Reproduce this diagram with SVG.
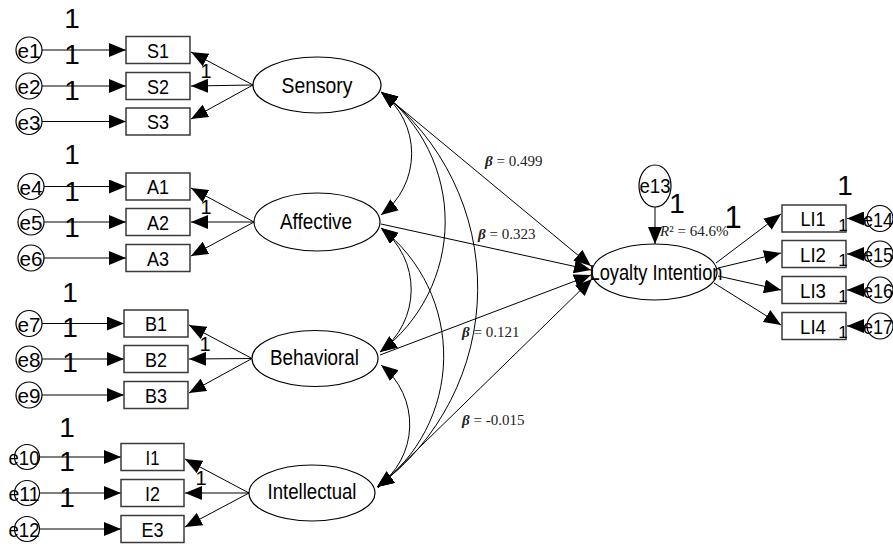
<svg xmlns="http://www.w3.org/2000/svg" width="893" height="546" viewBox="0 0 893 546">
<defs>
<style>
.n{fill:#fff;stroke:#000;stroke-width:1.2}
.b{fill:#fff;stroke:#3a3a3a;stroke-width:1.5}
.c{fill:none;stroke:#000;stroke-width:1}
.a{marker-end:url(#ah)}
.d{marker-start:url(#ah);marker-end:url(#ah)}
.t{font-family:"Liberation Sans",Arial,sans-serif;font-size:21px;text-anchor:middle;fill:#000}
.lt{font-size:22px}
.o{font-family:"Liberation Sans",Arial,sans-serif;font-size:28px;text-anchor:middle;fill:#000}
.os{font-size:20px}
.ox{font-size:17px}
.s{font-family:"Liberation Serif","Times New Roman",serif;font-size:15px;fill:#222}
.g{font-weight:bold;font-style:italic}
.i{font-style:italic}
</style>
<marker id="ah" viewBox="0 0 17 14" markerWidth="17" markerHeight="14" refX="17" refY="7" orient="auto-start-reverse" markerUnits="userSpaceOnUse"><path d="M0,0L17,7L0,14Z" fill="#000"/></marker>
</defs>
<rect width="893" height="546" fill="#fff"/>

<g id="connectors">
<!-- error to indicator -->
<line class="c a" x1="42" y1="50" x2="126" y2="50"/>
<line class="c a" x1="42" y1="86" x2="126" y2="86"/>
<line class="c a" x1="42" y1="121.5" x2="126" y2="121.5"/>
<line class="c a" x1="44" y1="186.5" x2="126" y2="186.5"/>
<line class="c a" x1="44" y1="222" x2="126" y2="222"/>
<line class="c a" x1="44" y1="258" x2="126" y2="258"/>
<line class="c a" x1="42" y1="323.5" x2="124" y2="323.5"/>
<line class="c a" x1="42" y1="359" x2="124" y2="359"/>
<line class="c a" x1="42" y1="395" x2="124" y2="395"/>
<line class="c a" x1="40" y1="457" x2="121" y2="457"/>
<line class="c a" x1="40" y1="493" x2="121" y2="493"/>
<line class="c a" x1="40" y1="529" x2="121" y2="529"/>
<!-- latent to indicators -->
<line class="c a" x1="253" y1="85" x2="191" y2="52"/>
<line class="c a" x1="253" y1="85" x2="191" y2="86"/>
<line class="c a" x1="253" y1="85" x2="191" y2="119"/>
<line class="c a" x1="254" y1="222" x2="191" y2="188"/>
<line class="c a" x1="254" y1="222" x2="191" y2="222"/>
<line class="c a" x1="254" y1="222" x2="191" y2="256"/>
<line class="c a" x1="252" y1="358.5" x2="189" y2="325"/>
<line class="c a" x1="252" y1="358.5" x2="189" y2="359"/>
<line class="c a" x1="252" y1="358.5" x2="189" y2="393"/>
<line class="c a" x1="249" y1="493" x2="185" y2="459"/>
<line class="c a" x1="249" y1="493" x2="185" y2="493"/>
<line class="c a" x1="249" y1="493" x2="185" y2="527"/>
<!-- covariances -->
<path class="c d" d="M381,92 A77,77 0 0 1 381,215"/>
<path class="c d" d="M381,92 A163,163 0 0 1 380,352"/>
<path class="c d" d="M381,92 A247,247 0 0 1 377,487"/>
<path class="c d" d="M381,228 A78,78 0 0 1 380,352"/>
<path class="c d" d="M381,228 A162,162 0 0 1 377,487"/>
<path class="c d" d="M381,365 A76,76 0 0 1 377,487"/>
<!-- structural paths -->
<line class="c a" x1="381" y1="92" x2="591" y2="266"/>
<line class="c a" x1="381" y1="224" x2="591" y2="270"/>
<line class="c a" x1="380" y1="355" x2="591" y2="275"/>
<line class="c a" x1="378" y1="488" x2="592" y2="279"/>
<!-- loyalty to indicators -->
<line class="c a" x1="716" y1="263" x2="781" y2="214"/>
<line class="c a" x1="718" y1="268" x2="781" y2="253"/>
<line class="c a" x1="718" y1="276" x2="781" y2="290"/>
<line class="c a" x1="714" y1="283" x2="781" y2="325"/>
<!-- errors right -->
<line class="c a" x1="867" y1="218.5" x2="847" y2="218.5"/>
<line class="c a" x1="867" y1="254" x2="847" y2="254"/>
<line class="c a" x1="867" y1="290" x2="847" y2="290"/>
<line class="c a" x1="867" y1="326" x2="847" y2="326"/>
<line class="c a" x1="655" y1="207" x2="655" y2="244"/>
</g>

<g id="Sensory"><ellipse class="n" cx="317" cy="85" rx="64" ry="28"/><text class="t lt" x="317" y="93" textLength="71" lengthAdjust="spacingAndGlyphs">Sensory</text></g>
<g id="Affective"><ellipse class="n" cx="317" cy="222" rx="63" ry="29"/><text class="t lt" x="316" y="229" textLength="72" lengthAdjust="spacingAndGlyphs">Affective</text></g>
<g id="Behavioral"><ellipse class="n" cx="315" cy="358.5" rx="63" ry="28"/><text class="t lt" x="314.5" y="365" textLength="89" lengthAdjust="spacingAndGlyphs">Behavioral</text></g>
<g id="Intellectual"><ellipse class="n" cx="312" cy="493" rx="63" ry="28"/><text class="t lt" x="312" y="499" textLength="89" lengthAdjust="spacingAndGlyphs">Intellectual</text></g>
<g id="LoyaltyIntention"><ellipse class="n" cx="654.5" cy="272" rx="62.5" ry="28"/><text class="t lt" x="656" y="280" textLength="133" lengthAdjust="spacingAndGlyphs">Loyalty Intention</text></g>

<g id="S1"><rect class="b" x="126" y="36.5" width="64" height="27"/><text class="t" x="158" y="57.5" textLength="22" lengthAdjust="spacingAndGlyphs">S1</text></g>
<g id="S2"><rect class="b" x="126" y="72.5" width="64" height="27"/><text class="t" x="158" y="93.5" textLength="22" lengthAdjust="spacingAndGlyphs">S2</text></g>
<g id="S3"><rect class="b" x="126" y="108" width="64" height="27"/><text class="t" x="158" y="129" textLength="22" lengthAdjust="spacingAndGlyphs">S3</text></g>
<g id="A1"><rect class="b" x="126" y="173" width="64" height="27"/><text class="t" x="158" y="194" textLength="22" lengthAdjust="spacingAndGlyphs">A1</text></g>
<g id="A2"><rect class="b" x="126" y="208.5" width="64" height="27"/><text class="t" x="158" y="229.5" textLength="22" lengthAdjust="spacingAndGlyphs">A2</text></g>
<g id="A3"><rect class="b" x="126" y="244.5" width="64" height="27"/><text class="t" x="158" y="265.5" textLength="22" lengthAdjust="spacingAndGlyphs">A3</text></g>
<g id="B1"><rect class="b" x="124" y="310" width="64" height="27"/><text class="t" x="156" y="331" textLength="22" lengthAdjust="spacingAndGlyphs">B1</text></g>
<g id="B2"><rect class="b" x="124" y="345.5" width="64" height="27"/><text class="t" x="156" y="366.5" textLength="22" lengthAdjust="spacingAndGlyphs">B2</text></g>
<g id="B3"><rect class="b" x="124" y="381.5" width="64" height="27"/><text class="t" x="156" y="402.5" textLength="22" lengthAdjust="spacingAndGlyphs">B3</text></g>
<g id="I1"><rect class="b" x="121" y="443.5" width="63" height="27"/><text class="t" x="152.5" y="464.5" textLength="14" lengthAdjust="spacingAndGlyphs">I1</text></g>
<g id="I2"><rect class="b" x="121" y="479.5" width="63" height="27"/><text class="t" x="152.5" y="500.5" textLength="15" lengthAdjust="spacingAndGlyphs">I2</text></g>
<g id="E3"><rect class="b" x="121" y="515.5" width="63" height="27"/><text class="t" x="152.5" y="536.5" textLength="22" lengthAdjust="spacingAndGlyphs">E3</text></g>
<g id="LI1"><rect class="b" x="782" y="205" width="64" height="27"/><text class="t" x="813" y="226" textLength="25" lengthAdjust="spacingAndGlyphs">LI1</text></g>
<g id="LI2"><rect class="b" x="782" y="240.5" width="64" height="27"/><text class="t" x="813" y="261.5" textLength="26" lengthAdjust="spacingAndGlyphs">LI2</text></g>
<g id="LI3"><rect class="b" x="782" y="276.5" width="64" height="27"/><text class="t" x="813" y="297.5" textLength="26" lengthAdjust="spacingAndGlyphs">LI3</text></g>
<g id="LI4"><rect class="b" x="782" y="312.5" width="64" height="27"/><text class="t" x="813" y="333.5" textLength="26" lengthAdjust="spacingAndGlyphs">LI4</text></g>

<g id="e1"><circle class="n" cx="29" cy="50" r="13"/><text class="t" x="29" y="58" textLength="23" lengthAdjust="spacingAndGlyphs">e1</text></g>
<g id="e2"><circle class="n" cx="29" cy="86" r="13"/><text class="t" x="29" y="94" textLength="23" lengthAdjust="spacingAndGlyphs">e2</text></g>
<g id="e3"><circle class="n" cx="29" cy="121.5" r="13"/><text class="t" x="29" y="129.5" textLength="23" lengthAdjust="spacingAndGlyphs">e3</text></g>
<g id="e4"><circle class="n" cx="31" cy="186.5" r="13"/><text class="t" x="31" y="194.5" textLength="23" lengthAdjust="spacingAndGlyphs">e4</text></g>
<g id="e5"><circle class="n" cx="31" cy="222" r="13"/><text class="t" x="31" y="230" textLength="23" lengthAdjust="spacingAndGlyphs">e5</text></g>
<g id="e6"><circle class="n" cx="31" cy="258" r="13"/><text class="t" x="31" y="266" textLength="23" lengthAdjust="spacingAndGlyphs">e6</text></g>
<g id="e7"><circle class="n" cx="29" cy="323.5" r="13"/><text class="t" x="29" y="331.5" textLength="23" lengthAdjust="spacingAndGlyphs">e7</text></g>
<g id="e8"><circle class="n" cx="29" cy="359" r="13"/><text class="t" x="29" y="367" textLength="23" lengthAdjust="spacingAndGlyphs">e8</text></g>
<g id="e9"><circle class="n" cx="29" cy="395" r="13"/><text class="t" x="29" y="403" textLength="23" lengthAdjust="spacingAndGlyphs">e9</text></g>
<g id="e10"><circle class="n" cx="27" cy="457" r="12.5"/><text class="t" x="24" y="465" textLength="31" lengthAdjust="spacingAndGlyphs">e10</text></g>
<g id="e11"><circle class="n" cx="27" cy="493" r="12.5"/><text class="t" x="24" y="501" textLength="31" lengthAdjust="spacingAndGlyphs">e11</text></g>
<g id="e12"><circle class="n" cx="27" cy="529" r="12.5"/><text class="t" x="24" y="537" textLength="31" lengthAdjust="spacingAndGlyphs">e12</text></g>
<g id="e13"><ellipse class="n" cx="655" cy="186" rx="16" ry="21"/><text class="t" x="655" y="193" textLength="31" lengthAdjust="spacingAndGlyphs">e13</text></g>
<g id="e14"><circle class="n" cx="880" cy="218.5" r="13"/><text class="t" x="878" y="226.5" textLength="30" lengthAdjust="spacingAndGlyphs">e14</text></g>
<g id="e15"><circle class="n" cx="880" cy="254" r="13"/><text class="t" x="878" y="262" textLength="30" lengthAdjust="spacingAndGlyphs">e15</text></g>
<g id="e16"><circle class="n" cx="880" cy="290" r="13"/><text class="t" x="878" y="298" textLength="30" lengthAdjust="spacingAndGlyphs">e16</text></g>
<g id="e17"><circle class="n" cx="880" cy="326" r="13"/><text class="t" x="878" y="334" textLength="30" lengthAdjust="spacingAndGlyphs">e17</text></g>

<g id="weights">
<text class="o" x="72" y="28">1</text><text class="o" x="72" y="64">1</text><text class="o" x="72" y="100">1</text>
<text class="o os" x="206" y="78">1</text>
<text class="o" x="72" y="164">1</text><text class="o" x="72" y="201">1</text><text class="o" x="72" y="237">1</text>
<text class="o os" x="206" y="214">1</text>
<text class="o" x="70" y="302">1</text><text class="o" x="70" y="337">1</text><text class="o" x="70" y="372">1</text>
<text class="o os" x="205" y="351">1</text>
<text class="o" x="67" y="437">1</text><text class="o" x="67" y="471">1</text><text class="o" x="67" y="507">1</text>
<text class="o os" x="201" y="485">1</text>
<text class="o" x="677" y="213">1</text>
<text class="o" x="733" y="228" style="font-size:31px">1</text>
<text class="o" x="845" y="195">1</text>
<text class="o ox" x="843" y="231">1</text><text class="o ox" x="843" y="266">1</text><text class="o ox" x="843" y="302">1</text><text class="o ox" x="843" y="338">1</text>
</g>

<g id="labels">
<text class="s" x="485" y="166"><tspan class="g">β</tspan> = 0.499</text>
<text class="s" x="478" y="239"><tspan class="g">β</tspan> = 0.323</text>
<text class="s" x="462" y="337"><tspan class="g">β</tspan> = 0.121</text>
<text class="s" x="462" y="425"><tspan class="g">β</tspan> = -0.015</text>
<text class="s" x="660" y="236"><tspan class="i">R</tspan>² = 64.6%</text>
</g>
</svg>
